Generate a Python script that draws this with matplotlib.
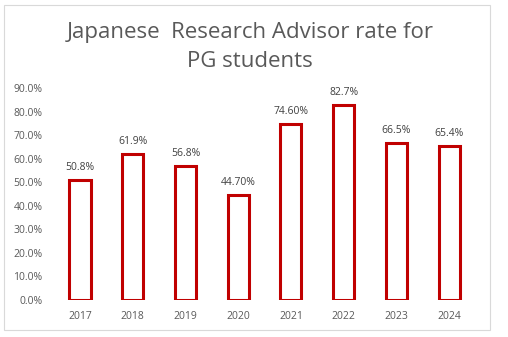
import numpy as np
import matplotlib.pyplot as plt
from matplotlib.patches import Rectangle
from matplotlib.ticker import FuncFormatter

years = ["2017", "2018", "2019", "2020", "2021", "2022", "2023", "2024"]
rates = [50.8, 61.9, 56.8, 44.7, 74.6, 82.7, 66.5, 65.4]
labels = ["50.8%", "61.9%", "56.8%", "44.70%", "74.60%", "82.7%", "66.5%", "65.4%"]

RED = "#C00000"
GREY = "#595959"

plt.rcParams["font.family"] = ["Open Sans", "DejaVu Sans"]

fig = plt.figure(figsize=(5.08, 3.37), dpi=100)
fig.patch.set_facecolor("white")
# chart frame
fig.patches.append(Rectangle((4 / 508, 1 - 330 / 337), 486 / 508, 325 / 337,
                             transform=fig.transFigure, fill=False,
                             edgecolor="#D9D9D9", linewidth=0.8))

ax = fig.add_axes([0.1055, 0.110, 0.8305, 0.629])
x = np.arange(len(years))
ax.bar(x, rates, width=0.4, facecolor="white", edgecolor=RED, linewidth=2.2)

for xi, v, lab in zip(x, rates, labels):
    ax.annotate(lab, (xi, v), xytext=(0, 5), textcoords="offset points",
                ha="center", va="bottom", fontsize=7.5, color="#404040")

ax.set_xlim(-0.5, len(years) - 0.5)
ax.set_ylim(0, 90)
ax.set_yticks(np.arange(0, 91, 10))
ax.yaxis.set_major_formatter(FuncFormatter(lambda v, p: f"{v:.1f}%"))
ax.set_xticks(x)
ax.set_xticklabels(years)
ax.tick_params(length=0, labelsize=7.5, labelcolor=GREY)
ax.tick_params(axis="x", pad=8)
ax.tick_params(axis="y", pad=8)
for s in ax.spines.values():
    s.set_visible(False)

fig.text(250 / 508, 1 - 47 / 337, "Japanese  Research Advisor rate for\nPG students",
         ha="center", va="center", fontsize=16, color=GREY, linespacing=1.5)

fig.savefig("out.png", dpi=100)
